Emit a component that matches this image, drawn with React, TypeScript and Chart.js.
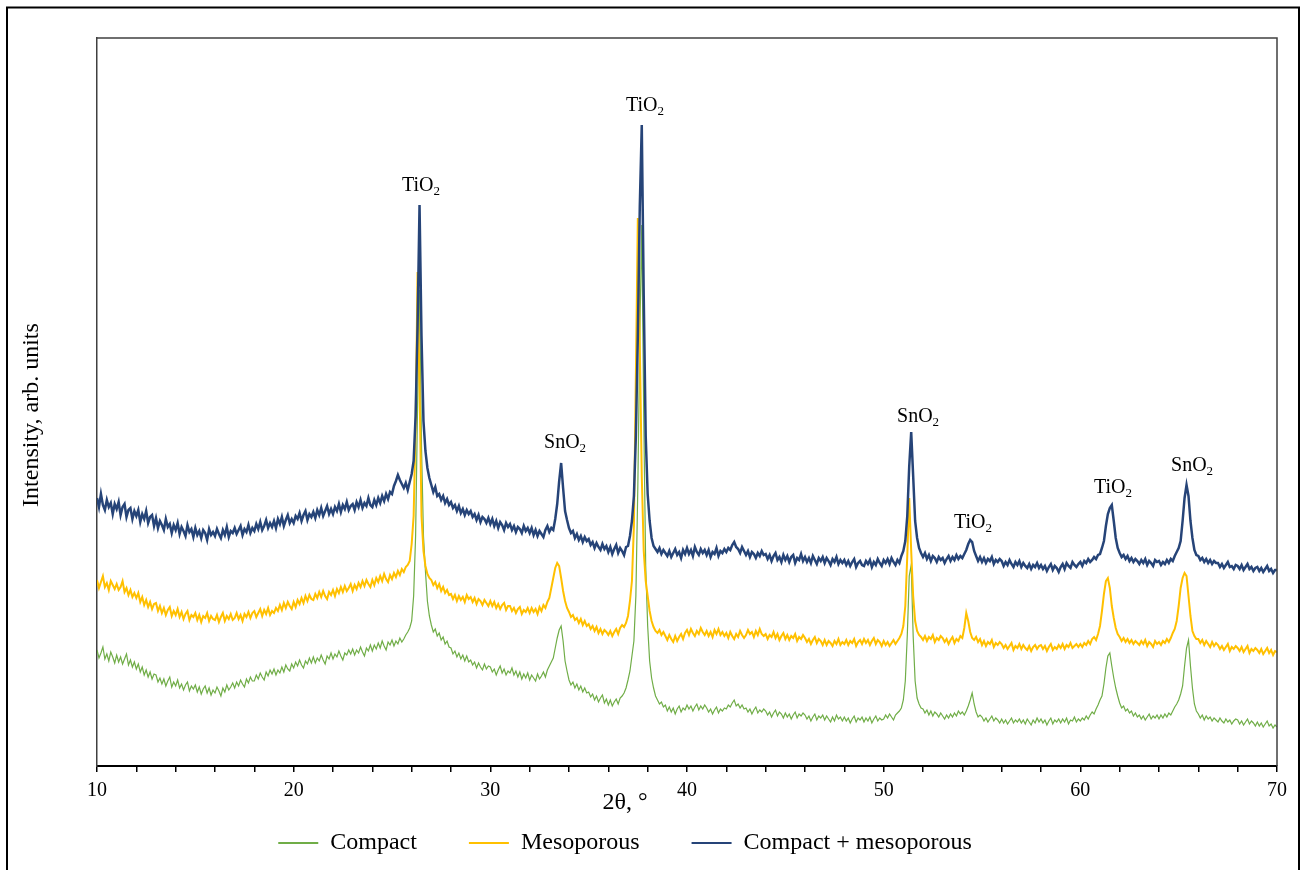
import React, { useEffect, useRef } from 'react';
import { Chart, registerables } from 'chart.js';

Chart.register(...registerables);

// Diffraction patterns: intensity (arb. units) sampled every 0.1° from 2θ = 10° to 70°
const START_ANGLE = 10;
const ANGLE_STEP = 0.1;

const COMPACT = [
  116, 108, 113, 119, 107, 112, 105, 114, 109, 103,
  111, 104, 109, 102, 107, 112, 101, 106, 99, 104,
  97, 102, 94, 99, 91, 96, 89, 94, 87, 92,
  91, 84, 88, 82, 87, 80, 85, 89, 79, 84,
  80, 86, 78, 82, 76, 81, 84, 75, 80, 77,
  81, 74, 79, 72, 77, 80, 73, 78, 71, 76,
  73, 79, 75, 70, 78, 74, 81, 76, 79, 83,
  78, 84, 80, 86, 82, 79, 87, 83, 89, 85,
  85, 91, 87, 93, 89, 86, 94, 90, 96, 92,
  97, 91, 96, 93, 99, 94, 101, 97, 95, 102,
  98, 104, 100, 106, 101, 98, 105, 102, 108, 103,
  109, 103, 108, 105, 111, 106, 102, 110, 107, 113,
  107, 112, 109, 115, 110, 106, 113, 111, 116, 112,
  117, 111, 116, 113, 119, 114, 110, 118, 115, 121,
  115, 121, 117, 123, 118, 125, 120, 116, 124, 121,
  126, 120, 125, 122, 128, 124, 127, 131, 134, 138,
  145, 170, 230, 360, 476, 320, 230, 195, 165, 150,
  141, 134, 137, 130, 133, 126, 129, 122, 125, 119,
  118, 112, 115, 109, 113, 107, 111, 105, 110, 104,
  106, 101, 104, 98, 103, 99, 96, 102, 97, 100,
  99, 94, 97, 91, 96, 100, 93, 97, 91, 95,
  93, 98, 91, 95, 89, 94, 87, 92, 88, 93,
  86, 91, 88, 85, 92, 87, 90, 94, 89, 96,
  100, 104, 108, 118, 128, 136, 140, 125, 105, 95,
  86, 81, 84, 78, 82, 76, 80, 74, 78, 73,
  74, 69, 72, 66, 70, 64, 68, 71, 63, 67,
  61, 66, 60, 64, 67, 62, 68, 70, 73, 78,
  86, 95, 110, 125, 170, 280, 430, 541, 350, 200,
  140, 105, 88, 78, 70, 66, 62, 64, 59, 61,
  55, 59, 54, 58, 52, 57, 60, 54, 58, 56,
  61, 57, 60, 55, 59, 62, 56, 60, 57, 61,
  58, 54, 57, 52, 56, 59, 53, 57, 55, 58,
  57, 61, 59, 63, 66, 60, 62, 58, 61, 57,
  58, 54, 57, 52, 56, 59, 53, 56, 54, 57,
  55, 51, 54, 49, 53, 56, 50, 54, 52, 48,
  53, 49, 52, 47, 51, 54, 48, 52, 50, 53,
  51, 47, 50, 45, 49, 52, 46, 50, 48, 51,
  46, 50, 47, 44, 49, 45, 51, 47, 49, 45,
  49, 45, 48, 43, 47, 50, 44, 48, 46, 49,
  44, 48, 45, 49, 43, 47, 50, 45, 48, 46,
  47, 51, 48, 52, 49, 46, 51, 53, 55, 58,
  66, 85, 130, 190, 201, 130, 85, 68, 62, 58,
  57, 53, 56, 51, 55, 50, 54, 52, 49, 53,
  50, 47, 51, 48, 52, 49, 53, 50, 55, 52,
  54, 51, 55, 60, 66, 73, 62, 54, 49, 51,
  49, 45, 48, 44, 47, 50, 45, 48, 46, 43,
  47, 43, 46, 42, 45, 48, 43, 46, 44, 47,
  43, 46, 42, 47, 44, 41, 46, 43, 48, 44,
  47, 43, 46, 41, 45, 48, 42, 46, 44, 47,
  43, 47, 44, 48, 42, 46, 45, 49, 44, 47,
  45, 48, 46, 50, 47, 51, 54, 52, 57, 61,
  66, 70, 82, 98, 110, 113, 100, 88, 78, 70,
  63, 58, 60, 55, 57, 53, 55, 50, 53, 49,
  51, 47, 50, 46, 49, 52, 47, 50, 48, 51,
  47, 51, 48, 52, 49, 53, 51, 55, 59, 62,
  66, 72, 80, 100, 118, 126, 100, 78, 62, 55,
  52, 48, 51, 46, 50, 47, 49, 45, 48, 46,
  44, 48, 45, 43, 47, 44, 46, 42, 45, 47,
  46, 42, 45, 41, 44, 47, 42, 45, 43, 40,
  44, 40, 43, 39, 42, 45, 40, 42, 38, 41,
  39,
];

const MESOPOROUS = [
  186, 178, 184, 190, 179, 183, 176, 185, 181, 177,
  182, 176, 179, 185, 174, 178, 171, 176, 169, 173,
  168, 173, 164, 169, 161, 166, 159, 164, 157, 162,
  163, 155, 160, 153, 158, 151, 156, 159, 150, 155,
  151, 157, 149, 154, 147, 152, 155, 146, 151, 149,
  153, 146, 151, 144, 150, 148, 153, 145, 150, 147,
  146, 151, 144, 149, 153, 145, 150, 147, 152, 146,
  148, 153, 147, 151, 145, 152, 149, 154, 148, 153,
  155, 149, 153, 157, 150, 156, 152, 158, 151, 155,
  153, 158, 155, 161, 156, 163, 158, 164, 160, 157,
  164, 159, 166, 162, 168, 163, 170, 165, 171, 167,
  166, 172, 168, 174, 169, 175, 170, 167, 174, 171,
  176, 170, 177, 173, 179, 174, 180, 175, 178, 182,
  175, 181, 177, 183, 179, 185, 180, 186, 182, 179,
  186, 181, 188, 184, 190, 185, 192, 187, 184, 191,
  187, 193, 189, 195, 191, 197, 194, 199, 201, 205,
  222, 250, 340, 494, 380, 250, 215, 200, 192, 188,
  186, 181, 184, 178, 182, 175, 179, 173, 176, 171,
  172, 167, 171, 165, 170, 166, 169, 164, 171, 167,
  169, 164, 168, 162, 167, 165, 161, 166, 163, 160,
  165, 160, 164, 158, 162, 157, 161, 163, 156, 160,
  160, 155, 158, 153, 157, 159, 152, 156, 154, 158,
  153, 158, 154, 157, 152, 159, 155, 161, 158, 164,
  168, 178, 188, 198, 203, 200, 188, 175, 165, 158,
  154, 149, 151, 146, 148, 143, 147, 141, 145, 140,
  142, 137, 140, 135, 139, 133, 137, 132, 136, 134,
  131, 135, 130, 134, 137, 132, 138, 141, 139, 143,
  150, 165, 185, 240, 390, 548, 420, 290, 215, 185,
  170, 155, 145, 139, 135, 133, 136, 131, 134, 130,
  126, 131, 127, 124, 130, 125, 129, 132, 127, 133,
  136, 131, 137, 133, 130, 135, 132, 138, 134, 131,
  135, 130, 134, 129, 136, 132, 137, 131, 134, 130,
  133, 128, 134, 130, 127, 132, 129, 135, 131, 128,
  131, 136, 132, 134, 129, 135, 131, 137, 132, 130,
  132, 127, 131, 129, 134, 128, 132, 126, 130, 133,
  127, 131, 126, 130, 128, 132, 125, 129, 127, 131,
  128, 124, 127, 122, 126, 129, 123, 127, 125, 121,
  126, 121, 125, 123, 120, 125, 122, 127, 121, 124,
  122, 126, 121, 125, 123, 127, 120, 124, 126, 122,
  127, 123, 126, 121, 125, 128, 122, 126, 124, 120,
  125, 121, 124, 120, 123, 126, 122, 125, 128, 132,
  140, 160, 210, 268, 215, 170, 145, 135, 131, 129,
  126, 130, 125, 129, 127, 131, 124, 128, 126, 130,
  128, 124, 127, 122, 126, 129, 123, 127, 125, 130,
  128, 138, 153, 145, 134, 128, 126, 129, 124, 127,
  121, 125, 120, 124, 122, 126, 119, 123, 121, 124,
  122, 118, 121, 117, 120, 123, 116, 120, 118, 122,
  117, 121, 118, 116, 120, 115, 119, 121, 117, 120,
  121, 117, 120, 115, 119, 122, 116, 119, 117, 121,
  118, 122, 117, 121, 119, 123, 118, 120, 122, 119,
  122, 119, 123, 121, 125, 122, 127, 129, 126, 132,
  140, 155, 172, 185, 188, 178, 160, 148, 138, 132,
  129, 125, 128, 124, 127, 123, 126, 122, 125, 123,
  121, 125, 122, 126, 120, 124, 122, 119, 125, 122,
  124, 121, 125, 123, 127, 124, 128, 133, 137, 145,
  160, 178, 188, 193, 190, 170, 150, 135, 130, 127,
  127, 123, 126, 121, 125, 122, 119, 124, 120, 123,
  121, 117, 120, 116, 119, 122, 115, 119, 117, 120,
  118, 115, 119, 114, 117, 120, 113, 117, 115, 118,
  116, 113, 117, 112, 115, 118, 113, 116, 111, 115,
  114,
];

const COMBINED = [
  268, 259, 272, 261, 256, 266, 259, 263, 252, 262,
  257, 264, 251, 259, 262, 249, 256, 258, 247, 255,
  250, 256, 244, 252, 247, 255, 243, 249, 251, 240,
  248, 238, 245, 241, 236, 247, 239, 242, 233, 241,
  236, 243, 232, 239, 235, 230, 241, 234, 237, 229,
  238, 231, 235, 228, 236, 233, 226, 237, 231, 234,
  230, 237, 232, 228, 236, 231, 239, 229, 235, 233,
  238, 232, 236, 240, 231, 237, 234, 241, 233, 238,
  235, 242, 237, 244, 236, 240, 246, 238, 243, 239,
  245, 238, 247, 242, 249, 240, 246, 251, 243, 247,
  243, 250, 247, 253, 245, 251, 255, 246, 252, 249,
  254, 248, 256, 251, 258, 250, 255, 260, 252, 257,
  252, 259, 255, 262, 254, 261, 257, 264, 256, 260,
  262, 256, 264, 259, 266, 258, 263, 260, 268, 261,
  259, 266, 261, 268, 263, 270, 265, 272, 267, 274,
  272, 280, 285, 291, 286, 282, 278, 283, 276, 284,
  292, 305, 350, 440, 561, 430, 345, 315, 298, 288,
  281, 274, 279, 270, 272, 266, 270, 263, 267, 261,
  264, 258, 261, 255, 260, 253, 257, 251, 256, 252,
  255, 249, 252, 246, 251, 244, 249, 247, 243, 248,
  242, 247, 240, 245, 238, 244, 241, 236, 243, 239,
  242, 236, 240, 234, 239, 237, 233, 240, 235, 238,
  233, 238, 231, 236, 230, 235, 232, 229, 236, 240,
  234, 238, 236, 247, 262, 285, 303, 278, 255, 246,
  238, 233, 235, 228, 232, 226, 230, 224, 229, 225,
  227, 221, 224, 218, 223, 219, 216, 222, 217, 220,
  214, 219, 212, 217, 221, 213, 218, 215, 211, 219,
  220, 230, 245, 270, 330, 430, 560, 641, 470, 330,
  272, 245, 228, 220, 217, 214, 218, 212, 216, 213,
  210, 215, 209, 213, 217, 211, 214, 208, 216, 212,
  218, 212, 216, 210, 219, 214, 211, 217, 213, 216,
  211, 216, 209, 214, 212, 218, 210, 215, 213, 217,
  214, 218, 216, 221, 224, 219, 217, 213, 219, 215,
  211, 215, 209, 214, 212, 208, 213, 210, 215, 211,
  212, 207, 211, 205, 210, 213, 206, 209, 204, 211,
  206, 210, 204, 209, 211, 203, 208, 206, 212, 205,
  209, 204, 208, 203, 210, 206, 202, 208, 205, 209,
  203, 208, 205, 201, 207, 204, 209, 202, 206, 203,
  206, 201, 205, 200, 204, 207, 199, 203, 205, 201,
  200, 205, 202, 206, 199, 204, 201, 207, 203, 200,
  206, 203, 207, 202, 208, 204, 201, 206, 203, 210,
  215, 225, 250, 300, 334, 290, 245, 228, 218, 213,
  209, 213, 207, 211, 205, 210, 208, 204, 209, 206,
  208, 203, 207, 210, 205, 209, 206, 211, 207, 210,
  208, 212, 216, 222, 226, 224, 215, 210, 205, 209,
  204, 208, 203, 207, 205, 209, 202, 206, 204, 207,
  205, 200, 204, 201, 206, 202, 199, 204, 201, 205,
  199, 203, 200, 198, 202, 197, 201, 199, 203, 198,
  201, 197, 200, 195, 199, 202, 196, 200, 198, 194,
  199, 202, 197, 203, 200, 198, 204, 201, 199, 202,
  204, 200, 205, 203, 207, 204, 206, 209, 207, 211,
  212, 218, 225, 240, 252, 258, 261, 245, 228, 218,
  213, 209, 211, 207, 210, 205, 208, 204, 207, 205,
  202, 206, 203, 207, 201, 205, 203, 200, 206, 204,
  205, 201, 204, 202, 206, 203, 207, 205, 210, 214,
  218, 225, 245, 268, 281, 270, 245, 228, 216, 211,
  210, 206, 208, 204, 207, 203, 206, 202, 205, 203,
  203, 199, 202, 198, 201, 204, 199, 200, 197, 201,
  200, 197, 201, 196, 199, 202, 197, 199, 195, 198,
  199, 195, 198, 194, 197, 200, 195, 197, 193, 196,
  196,
];

const ANGLES = COMPACT.map((_, i) => Number((START_ANGLE + i * ANGLE_STEP).toFixed(1)));

const SERIES_NAMES = ['Compact', 'Mesoporous', 'Compact + mesoporous'];
const SERIES_COLORS = ['#70AD47', '#FFC000', '#264478'];
const TICK_LABELS = [10, 20, 30, 40, 50, 60, 70];

// Phase labels above the reflections (2θ, intensity at label centre)
const PEAK_LABELS = ['TiO2', 'SnO2', 'TiO2', 'SnO2', 'TiO2', 'TiO2', 'SnO2'];
const PEAK_LABEL_ANGLE = [26.47, 33.8, 37.86, 51.75, 54.54, 61.66, 65.68];
const PEAK_LABEL_VALUE = [581, 324, 661, 350, 244, 279, 301];

const FONT = "'Liberation Serif', 'Times New Roman', serif";

const decorPlugin = {
  id: 'decor',
  afterLayout(chart: any) {
    const lg = chart.legend;
    if (lg) {
      lg.right -= 27;
      const dy = lg.top - (chart.chartArea.bottom + 13);
      lg.top -= dy;
      lg.bottom -= dy;
    }
  },
  beforeDraw(chart: any) {
    const { ctx, width, height } = chart;
    ctx.save();
    ctx.fillStyle = '#ffffff';
    ctx.fillRect(0, 0, width, height);
    ctx.strokeStyle = '#000000';
    ctx.lineWidth = 2;
    ctx.strokeRect(7, 7.5, 1292, 880);
    ctx.restore();
  },
  afterDraw(chart: any) {
    const { ctx, chartArea } = chart;
    const xs = chart.scales.x;
    const ys = chart.scales.y;
    ctx.save();
    // top and right frame of the plot area
    ctx.strokeStyle = '#404040';
    ctx.lineWidth = 1.5;
    ctx.beginPath();
    ctx.moveTo(chartArea.left, chartArea.top);
    ctx.lineTo(chartArea.right, chartArea.top);
    ctx.lineTo(chartArea.right, chartArea.bottom);
    ctx.stroke();

    // phase labels with subscript
    ctx.fillStyle = '#000000';
    ctx.textBaseline = 'alphabetic';
    ctx.textAlign = 'left';
    PEAK_LABELS.forEach((label, i) => {
      const main = label.slice(0, -1);
      const sub = label.slice(-1);
      const cx = xs.getPixelForValue(PEAK_LABEL_ANGLE[i]);
      const cy = ys.getPixelForValue(PEAK_LABEL_VALUE[i]);
      ctx.font = `20px ${FONT}`;
      const wMain = ctx.measureText(main).width;
      ctx.font = `13px ${FONT}`;
      const wSub = ctx.measureText(sub).width;
      const x0 = cx - (wMain + wSub) / 2;
      ctx.font = `20px ${FONT}`;
      ctx.fillText(main, x0, cy + 6);
      ctx.font = `13px ${FONT}`;
      ctx.fillText(sub, x0 + wMain, cy + 10);
    });

    // axis titles
    ctx.font = `24px ${FONT}`;
    ctx.textAlign = 'center';
    ctx.textBaseline = 'middle';
    ctx.fillText('2θ, °', 625, 803);
    ctx.translate(32, 415);
    ctx.rotate(-Math.PI / 2);
    ctx.fillText('Intensity, arb. units', 0, 0);
    ctx.restore();
  },
};

export default function App() {
  const canvasRef = useRef<HTMLCanvasElement | null>(null);

  useEffect(() => {
    if (!canvasRef.current) return;
    const seriesValues = [COMPACT, MESOPOROUS, COMBINED];
    const widths = [1.2, 2, 2.5];
    const orders = [2, 1, 0];
    const chart = new Chart(canvasRef.current, {
      type: 'line',
      data: {
        datasets: seriesValues.map((vals, s) => ({
          label: SERIES_NAMES[s],
          data: ANGLES.map((a, i) => ({ x: a, y: vals[i] })),
          borderColor: SERIES_COLORS[s],
          backgroundColor: SERIES_COLORS[s],
          borderWidth: widths[s],
          pointRadius: 0,
          tension: 0,
          fill: false,
          order: orders[s],
        })),
      },
      options: {
        responsive: false,
        animation: false,
        events: [],
        layout: { padding: { top: 38, right: 26, bottom: -18, left: 0 } },
        scales: {
          x: {
            type: 'linear',
            min: 10,
            max: 70,
            afterFit: (scale: any) => {
              scale.height = 36;
            },
            ticks: {
              stepSize: 2,
              autoSkip: false,
              maxRotation: 0,
              padding: 7,
              color: '#000000',
              font: { family: FONT, size: 20 },
              callback: (v: any) => (TICK_LABELS.includes(Math.round(Number(v))) && Math.abs(Number(v) - Math.round(Number(v))) < 1e-6 ? String(Math.round(Number(v))) : ''),
            },
            grid: {
              display: true,
              drawOnChartArea: false,
              drawTicks: true,
              tickLength: 6,
              color: '#000000',
              lineWidth: 1.5,
            },
            border: { display: true, color: '#000000', width: 2 },
          },
          y: {
            min: 0,
            max: 728,
            afterFit: (scale: any) => {
              scale.width = 97;
            },
            ticks: { display: false },
            grid: { display: false },
            border: { display: true, color: '#404040', width: 1.5 },
          },
        },
        plugins: {
          tooltip: { enabled: false },
          legend: {
            display: true,
            position: 'bottom',
            labels: {
              boxWidth: 40,
              boxHeight: 2,
              padding: 52,
              color: '#000000',
              font: { family: FONT, size: 24 },
              sort: (a: any, b: any) => a.datasetIndex - b.datasetIndex,
              generateLabels: (c: any) =>
                Chart.defaults.plugins.legend.labels.generateLabels(c).map((item: any) => ({
                  ...item,
                  fillStyle: SERIES_COLORS[item.datasetIndex],
                  strokeStyle: SERIES_COLORS[item.datasetIndex],
                  lineWidth: 0,
                })),
            },
          },
        },
      },
      plugins: [decorPlugin],
    } as any);
    return () => chart.destroy();
  }, []);

  return (
    <div style={{ position: 'absolute', left: 0, top: 0, width: 1303, height: 870, background: '#fff' }}>
      <canvas ref={canvasRef} width={1303} height={870} style={{ display: 'block' }} />
    </div>
  );
}
